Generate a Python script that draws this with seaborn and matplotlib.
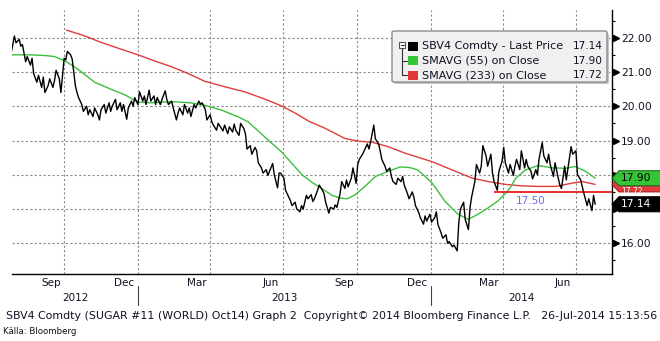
import numpy as np
import pandas as pd
import matplotlib
matplotlib.use("Agg")
import matplotlib.pyplot as plt
import matplotlib.transforms as mtransforms
from matplotlib.patches import FancyBboxPatch, Polygon, Rectangle
import seaborn as sns

# ---------------- data ----------------
price_start = "2012-07-27"
price_freq = "2B"
price = [
    21.55, 22.05, 21.85, 21.95, 21.75, 21.80, 21.30, 21.45, 21.20, 21.40, 20.95, 20.70, 20.90, 20.55, 20.85,
    20.40, 20.60, 20.80, 20.55, 20.75, 21.05, 20.80, 20.40, 21.40, 21.35, 21.60, 21.50, 21.38, 20.60, 20.40,
    20.25, 20.05, 19.85, 20.00, 19.75, 19.90, 19.70, 19.95, 19.75, 19.60, 19.90, 20.05, 19.80, 20.10, 19.85,
    20.00, 20.20, 19.90, 20.10, 19.85, 20.05, 19.62, 19.95, 20.15, 20.00, 20.25, 20.05, 20.42, 20.15, 20.30,
    20.05, 20.47, 20.15, 20.30, 20.05, 20.25, 20.05, 20.20, 20.45, 20.20, 20.05, 20.15, 19.95, 19.60, 19.80,
    19.95, 19.75, 20.05, 19.80, 19.95, 19.70, 20.05, 19.95, 20.15, 20.05, 20.10, 19.90, 19.60, 19.75, 19.55,
    19.45, 19.30, 19.50, 19.35, 19.28, 19.45, 19.20, 19.40, 19.25, 19.48, 19.30, 19.15, 19.50, 19.35, 19.20,
    18.75, 18.85, 18.60, 18.80, 18.70, 18.35, 18.20, 18.05, 18.15, 17.98, 18.10, 18.33, 18.00, 17.62, 18.05,
    18.05, 17.90, 17.55, 17.35, 17.25, 17.10, 17.20, 17.00, 16.92, 17.10, 17.00, 17.40, 17.30, 17.42, 17.22,
    17.30, 17.55, 17.70, 17.55, 17.45, 17.20, 16.88, 17.05, 17.00, 17.12, 17.05, 17.45, 17.80, 17.60, 17.85,
    17.65, 17.90, 18.20, 17.75, 18.30, 18.45, 18.60, 18.70, 18.90, 18.75, 18.95, 19.45, 19.05, 18.90, 18.70,
    18.45, 18.25, 18.10, 18.20, 17.95, 17.80, 17.72, 17.90, 17.80, 17.95, 17.70, 17.45, 17.30, 17.50, 17.35,
    17.10, 16.90, 16.75, 16.56, 16.80, 16.65, 16.85, 16.62, 16.75, 16.92, 16.55, 16.30, 16.15, 16.25, 16.00,
    16.05, 15.90, 15.95, 15.78, 16.60, 17.00, 17.20, 16.70, 16.40, 17.05, 17.35, 17.80, 18.30, 18.05, 18.25,
    18.85, 18.55, 18.25, 18.60, 18.05, 17.80, 17.55, 18.10, 18.40, 18.80, 18.35, 18.05, 18.30, 17.98, 18.25,
    18.45, 18.15, 18.70, 18.20, 18.45, 18.25, 18.10, 17.88, 18.15, 18.00, 18.45, 18.94, 18.55, 18.35, 18.60,
    18.30, 17.95, 18.35, 17.90, 17.70, 17.60, 18.25, 17.85, 18.50, 18.82, 18.60, 18.70, 18.00, 17.85, 17.65,
    17.45, 17.10, 17.30, 16.95, 17.40, 17.14,
]

sma55_dates = [
    "2012-07-28", "2012-08-19", "2012-09-07", "2012-09-19", "2012-10-02",
    "2012-10-14", "2012-10-27", "2012-11-08", "2012-11-21", "2012-12-03",
    "2012-12-16", "2013-01-01", "2013-01-16", "2013-01-31", "2013-02-16",
    "2013-03-07", "2013-03-25", "2013-04-16", "2013-05-06", "2013-05-18",
    "2013-05-31", "2013-06-12", "2013-06-29", "2013-07-12", "2013-07-25",
    "2013-08-06", "2013-08-18", "2013-08-31", "2013-09-10", "2013-09-19",
    "2013-09-29", "2013-10-11", "2013-10-24", "2013-11-09", "2013-11-24",
    "2013-12-06", "2013-12-16", "2013-12-25", "2014-01-03", "2014-01-19",
    "2014-02-04", "2014-02-17", "2014-03-01", "2014-03-14", "2014-03-26",
    "2014-04-04", "2014-04-10", "2014-04-17", "2014-04-29", "2014-05-15",
    "2014-06-02", "2014-06-18", "2014-06-30", "2014-07-13", "2014-07-25",
]
sma55 = [
    21.50, 21.50, 21.48, 21.45, 21.32,
    21.15, 20.92, 20.70, 20.57, 20.45,
    20.33, 20.12, 20.10, 20.12, 20.13,
    20.10, 20.03, 19.88, 19.69, 19.55,
    19.28, 19.02, 18.67, 18.33, 17.99,
    17.78, 17.60, 17.40, 17.32, 17.30,
    17.42, 17.66, 17.95, 18.10, 18.23,
    18.21, 18.14, 17.95, 17.75, 17.22,
    16.85, 16.70, 16.85, 17.04, 17.24,
    17.45, 17.62, 17.90, 18.14, 18.27,
    18.20, 18.19, 18.24, 18.10, 17.90,
]

sma233_dates = [
    "2012-10-04", "2012-10-27", "2012-11-14", "2012-12-09", "2013-01-01",
    "2013-01-22", "2013-02-12", "2013-03-04", "2013-03-25", "2013-04-19",
    "2013-05-14", "2013-06-08", "2013-06-30", "2013-07-16", "2013-08-03",
    "2013-08-22", "2013-09-16", "2013-10-03", "2013-10-20", "2013-11-09",
    "2013-11-30", "2014-01-03", "2014-02-01", "2014-02-22", "2014-03-14",
    "2014-04-04", "2014-04-23", "2014-05-15", "2014-06-06", "2014-06-27",
    "2014-07-09", "2014-07-25",
]
sma233 = [
    22.22, 22.05, 21.88, 21.68, 21.50,
    21.32, 21.15, 20.96, 20.73, 20.57,
    20.42, 20.21, 20.00, 19.80, 19.55,
    19.36, 19.06, 18.98, 18.95, 18.82,
    18.63, 18.38, 18.10, 17.90, 17.80,
    17.72, 17.68, 17.66, 17.66, 17.76,
    17.80, 17.72,
]

level_value = 17.50
level_start = "2014-03-21"

legend_labels = ["SBV4 Comdty - Last Price", "SMAVG (55) on Close", "SMAVG (233) on Close"]
month_labels = ["Sep", "Dec", "Mar", "Jun"]
footer = ("SBV4 Comdty (SUGAR #11 (WORLD) Oct14) Graph 2  Copyright\u00a9 2014 "
          "Bloomberg Finance L.P.   26-Jul-2014 15:13:56")
source = "K\u00e4lla: Bloomberg"

# ---------------- style ----------------
C_PRICE = "#000000"
C_G = "#3cbf3c"
C_R = "#e23b3b"
C_TXT = "#111122"
C_GRID = "#8a8a8a"

sns.set_style("white")
plt.rcParams["font.family"] = ["DejaVu Sans"]

W, H = 660, 341
fig = plt.figure(figsize=(W / 100, H / 100), dpi=100)
fig.patch.set_facecolor("white")
ax = fig.add_axes([12 / W, 1 - 274 / H, 600 / W, 264 / H])
ax.set_facecolor("white")

df_p = pd.DataFrame({"date": pd.bdate_range(price_start, periods=len(price), freq=price_freq),
                     "value": price})
df_55 = pd.DataFrame({"date": pd.to_datetime(sma55_dates), "value": sma55})
df_233 = pd.DataFrame({"date": pd.to_datetime(sma233_dates), "value": sma233})

xlim = (pd.Timestamp("2012-07-28"), pd.Timestamp("2014-08-15"))
ylim = (15.105, 22.808)

sns.lineplot(data=df_233, x="date", y="value", ax=ax, color=C_R, linewidth=1.0, zorder=3)
sns.lineplot(data=df_55, x="date", y="value", ax=ax, color=C_G, linewidth=1.0, zorder=3)
sns.lineplot(data=df_p, x="date", y="value", ax=ax, color=C_PRICE, linewidth=1.0, zorder=4)

ax.hlines(level_value, pd.Timestamp(level_start), xlim[1], color="#e81c1c", lw=1.3, zorder=3)
ax.text(pd.Timestamp("2014-04-17"), level_value - 0.26, f"{level_value:.2f}",
        color="#6e6ede", fontsize=7.5, va="center", ha="left", zorder=5)

ax.set_xlim(*xlim)
ax.set_ylim(*ylim)
ax.set_xlabel("")
ax.set_ylabel("")

for s in ["top", "left"]:
    ax.spines[s].set_visible(False)
for s in ["bottom", "right"]:
    ax.spines[s].set_color("black")
    ax.spines[s].set_linewidth(1.0)

# y axis on right
major_y = np.arange(16, 23, 1)
ax.yaxis.tick_right()
ax.set_yticks(major_y)
ax.set_yticks(np.arange(15.5, 23, 1.0), minor=True)
ax.grid(axis="y", which="major", linestyle=(0, (2, 2)), color=C_GRID, linewidth=0.8)
tag_vals = [price[-1], sma55[-1], sma233[-1]]
ylabels = []
for v in major_y:
    if min(abs(v - t) for t in tag_vals) < 0.35:
        ylabels.append("")
    else:
        ylabels.append(f"{v:.2f}")
ax.set_yticklabels(ylabels)
ax.tick_params(axis="y", which="major", length=0, pad=6.5, labelsize=7.7, labelcolor=C_TXT)
ax.tick_params(axis="y", which="minor", length=2.5, width=0.8, color="black", direction="out")
ax.plot([1.006] * len(major_y), major_y, marker=">", ms=4.5, color="black", ls="none",
        transform=ax.get_yaxis_transform(), clip_on=False, zorder=6)

# x axis: month ticks, quarter grid
months = pd.date_range("2012-08-01", "2014-08-01", freq="MS")
ax.set_xticks(months)
ax.set_xticklabels([""] * len(months))
ax.tick_params(axis="x", which="major", length=3.5, width=0.8, color="black", direction="out")
quarters = [d for d in months if d.month in (1, 4, 7, 10)]
ax.vlines(quarters, ylim[0], ylim[1], colors=C_GRID, linestyles=(0, (2, 2)), linewidth=0.8, zorder=1)

xt = ax.get_xaxis_transform()
mids = pd.date_range("2012-08-01", "2014-08-01", freq="MS") + pd.Timedelta(days=14)
for d in mids:
    lab = d.strftime("%b")
    if lab in month_labels and xlim[0] <= d <= xlim[1]:
        ax.text(d, -0.034, lab, transform=xt, ha="center", va="center", fontsize=7.5,
                color=C_TXT, clip_on=False)
for yr in [2012, 2013, 2014]:
    a = max(pd.Timestamp(f"{yr}-01-01"), xlim[0])
    b = min(pd.Timestamp(f"{yr + 1}-01-01"), xlim[1])
    ax.text(a + (b - a) / 2, -0.091, str(yr), transform=xt, ha="center", va="center",
            fontsize=7.5, color=C_TXT, clip_on=False)
    if yr > 2012:
        ax.plot([pd.Timestamp(f"{yr}-01-01")] * 2, [-0.046, -0.118], transform=xt,
                color="#444444", lw=0.8, clip_on=False)

# ---------------- price tags ----------------
ytrans = ax.get_yaxis_transform()
HALF = 7.5
def tag(value, fc, ec, tc, z, text_y=None, fs=7.7):
    x0, yd = ytrans.transform((1.0, value))
    verts = [(x0, yd), (x0 + 7, yd - HALF), (W + 2, yd - HALF), (W + 2, yd + HALF), (x0 + 7, yd + HALF)]
    p = Polygon(verts, closed=True, facecolor=fc, edgecolor=ec, lw=0.8,
                transform=mtransforms.IdentityTransform(), zorder=z)
    fig.add_artist(p)
    ty = yd if text_y is None else text_y
    fig.text((x0 + 9) / W, ty / H, f"{value:.2f}", color=tc, fontsize=fs, va="center",
             ha="left", zorder=z + 0.5)

_, yg = ytrans.transform((1.0, sma55[-1]))
_, yb = ytrans.transform((1.0, price[-1]))
# red tag sits behind the other two; its label shows in the gap between them
tag(sma233[-1], C_R, "#b02020", "white", 10, text_y=(yg - HALF + yb + HALF) / 2, fs=5.5)
tag(sma55[-1], "#35c435", "#1e6e1e", "black", 11)
tag(price[-1], "black", "black", "white", 12)

# ---------------- legend ----------------
def fx(x):
    return x / W
def fy(y):
    return 1 - y / H

shadow = FancyBboxPatch((fx(394), fy(84)), fx(607) - fx(392), fy(31) - fy(82),
                        boxstyle="round,pad=0,rounding_size=0.004", transform=fig.transFigure,
                        facecolor="#c4c4c4", edgecolor="none", zorder=20)
fig.add_artist(shadow)
box = FancyBboxPatch((fx(392), fy(82)), fx(607) - fx(392), fy(31) - fy(82),
                     boxstyle="round,pad=0,rounding_size=0.004", transform=fig.transFigure,
                     facecolor="#f0f0f0", edgecolor="#8c8c8c", linewidth=1.0, zorder=21)
fig.add_artist(box)
fig.add_artist(Rectangle((fx(399), fy(48)), fx(405) - fx(399), fy(42) - fy(48),
                         transform=fig.transFigure, facecolor="white", edgecolor="#555555",
                         lw=0.8, zorder=22))
fig.add_artist(plt.Line2D([fx(400.5), fx(403.5)], [fy(45), fy(45)], transform=fig.transFigure,
                          color="#333333", lw=0.8, zorder=23))
fig.add_artist(plt.Line2D([fx(402), fx(402)], [fy(48), fy(75)], transform=fig.transFigure,
                          color="#333333", lw=0.8, zorder=22))
for yy in [60.5, 75]:
    fig.add_artist(plt.Line2D([fx(402), fx(407)], [fy(yy), fy(yy)], transform=fig.transFigure,
                              color="#333333", lw=0.8, zorder=22))
rows = [46, 60.5, 75]
cols = ["black", "#33c733", "#e03636"]
vals = [price[-1], sma55[-1], sma233[-1]]
for yy, c, lab, v in zip(rows, cols, legend_labels, vals):
    fig.add_artist(Rectangle((fx(408), fy(yy + 4.5)), fx(418) - fx(408), fy(yy - 4.5) - fy(yy + 4.5),
                             transform=fig.transFigure, facecolor=c, edgecolor="none", zorder=22))
    fig.text(fx(422), fy(yy), lab, fontsize=8.0, color=C_TXT, va="center", ha="left", zorder=23)
    fig.text(fx(603), fy(yy), f"{v:.2f}", fontsize=7.6, color=C_TXT, va="center", ha="right",
             zorder=23)

# ---------------- footer ----------------
fig.text(fx(6), fy(316), footer, fontsize=7.9, color=C_TXT, va="center", ha="left")
fig.text(fx(3), fy(331), source, fontsize=6.2, color="#111111", va="center", ha="left",
         family=["Liberation Sans Narrow", "DejaVu Sans"])

fig.savefig("out.png", dpi=100)
